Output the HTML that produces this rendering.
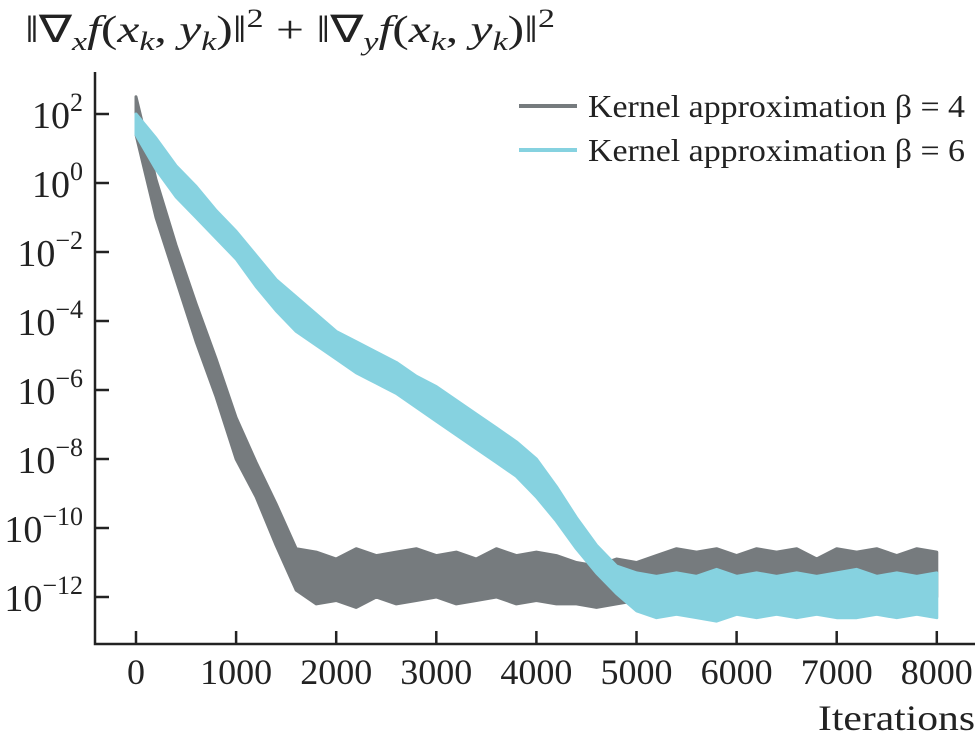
<!DOCTYPE html>
<html><head><meta charset="utf-8"><style>
body{margin:0;background:#fff}
svg{display:block;font-family:"Liberation Serif",serif}
</style></head><body>
<svg id="c" width="978" height="746">
<g id="plot"></g>
<text x="25" y="42" font-size="38" textLength="530" lengthAdjust="spacingAndGlyphs" fill="#222">‖∇<tspan font-size="26" dy="8" font-style="italic">x</tspan><tspan dy="-8" font-style="italic">f</tspan>(<tspan font-style="italic">x</tspan><tspan font-size="26" dy="8" font-style="italic">k</tspan><tspan dy="-8">, </tspan><tspan font-style="italic">y</tspan><tspan font-size="26" dy="8" font-style="italic">k</tspan><tspan dy="-8">)‖</tspan><tspan font-size="26" dy="-15">2</tspan><tspan dy="15"> + ‖∇</tspan><tspan font-size="26" dy="8" font-style="italic">y</tspan><tspan dy="-8" font-style="italic">f</tspan>(<tspan font-style="italic">x</tspan><tspan font-size="26" dy="8" font-style="italic">k</tspan><tspan dy="-8">, </tspan><tspan font-style="italic">y</tspan><tspan font-size="26" dy="8" font-style="italic">k</tspan><tspan dy="-8">)‖</tspan><tspan font-size="26" dy="-15">2</tspan></text>
<text x="818" y="730" font-size="36" textLength="157" lengthAdjust="spacingAndGlyphs" fill="#222">Iterations</text>
<g>
<line x1="519" x2="577" y1="106" y2="106" stroke="#767b7e" stroke-width="4"/>
<text x="588" y="117" font-size="32" textLength="377" lengthAdjust="spacingAndGlyphs" fill="#222">Kernel approximation β = 4</text>
<line x1="519" x2="577" y1="150" y2="150" stroke="#86d2e0" stroke-width="4"/>
<text x="588" y="161" font-size="32" textLength="377" lengthAdjust="spacingAndGlyphs" fill="#222">Kernel approximation β = 6</text>
</g>
</svg>
<script>
const xTicks=[0,1000,2000,3000,4000,5000,6000,7000,8000];
const yTicks=[2,0,-2,-4,-6,-8,-10,-12];
const iters=[0,200,400,600,800,1000,1200,1400,1600,1800,2000,2200,2400,2600,2800,3000,3200,3400,3600,3800,4000,4200,4400,4600,4800,5000,5200,5400,5600,5800,6000,6200,6400,6600,6800,7000,7200,7400,7600,7800,8000];
const grayUpper=[2.5,0.1,-1.8,-3.5,-5.1,-6.8,-8.1,-9.3,-10.6,-10.7,-10.9,-10.6,-10.8,-10.7,-10.6,-10.8,-10.7,-10.9,-10.6,-10.8,-10.7,-10.8,-11.0,-11.1,-10.9,-11.0,-10.8,-10.6,-10.7,-10.6,-10.8,-10.6,-10.7,-10.6,-10.9,-10.6,-10.7,-10.6,-10.8,-10.6,-10.7];
const grayLower=[1.4,-1.0,-2.8,-4.6,-6.2,-8.0,-9.1,-10.5,-11.8,-12.2,-12.1,-12.3,-12.0,-12.2,-12.1,-12.0,-12.2,-12.1,-12.0,-12.2,-12.1,-12.2,-12.2,-12.3,-12.2,-12.1,-12.2,-12.0,-12.1,-12.2,-12.0,-12.1,-12.2,-12.0,-12.1,-12.0,-12.2,-12.1,-12.0,-12.1,-12.0];
const cyanUpper=[2.0,1.3,0.5,-0.1,-0.8,-1.4,-2.1,-2.8,-3.3,-3.8,-4.3,-4.6,-4.9,-5.2,-5.6,-5.9,-6.3,-6.7,-7.1,-7.5,-8.0,-8.8,-9.7,-10.5,-11.1,-11.3,-11.4,-11.3,-11.4,-11.2,-11.4,-11.3,-11.4,-11.3,-11.4,-11.3,-11.2,-11.4,-11.3,-11.4,-11.3];
const cyanLower=[1.4,0.4,-0.4,-1.0,-1.6,-2.2,-3.0,-3.7,-4.3,-4.7,-5.1,-5.5,-5.8,-6.1,-6.5,-6.9,-7.3,-7.7,-8.1,-8.5,-9.1,-9.8,-10.6,-11.3,-11.9,-12.4,-12.6,-12.5,-12.6,-12.7,-12.5,-12.6,-12.5,-12.6,-12.5,-12.6,-12.6,-12.5,-12.6,-12.5,-12.6];
const NS="http://www.w3.org/2000/svg";
const X=v=>136+v*0.1001;
const Y=l=>114+(2-l)*34.5;
const g=document.getElementById('plot');
function mk(t,a,p){const e=document.createElementNS(NS,t);for(const k in a)e.setAttribute(k,a[k]);(p||g).appendChild(e);return e;}
function band(up,lo,color,name){
  let d='M'+iters.map((v,i)=>X(v).toFixed(1)+','+Y(up[i]).toFixed(1)).join('L');
  for(let i=iters.length-1;i>=0;i--)d+='L'+X(iters[i]).toFixed(1)+','+Y(lo[i]).toFixed(1);
  const p=mk('path',{d:d+'Z',fill:color,stroke:color,'stroke-width':3,'stroke-linejoin':'round'});
  
  
}
band(grayUpper,grayLower,'#767b7e','series-beta-4');
band(cyanUpper,cyanLower,'#86d2e0','series-beta-6');
const ax=mk('path',{d:'M95,72V644H975',fill:'none',stroke:'#222','stroke-width':2.5});


xTicks.forEach(v=>{
  const t=mk('line',{x1:X(v),x2:X(v),y1:644,y2:631,stroke:'#222','stroke-width':2.5});
  
  
  const l=mk('text',{x:X(v),y:684,'text-anchor':'middle','font-size':36,fill:'#222'});
  l.textContent=v;
  
  
});
yTicks.forEach(v=>{
  const t=mk('line',{x1:95,x2:109,y1:Y(v),y2:Y(v),stroke:'#222','stroke-width':2.5});
  
  
  const l=mk('text',{x:83,y:Y(v)+14,'text-anchor':'end','font-size':38,fill:'#222'});
  
  
  const a=mk('tspan',{},l);a.textContent='10';
  const b=mk('tspan',{dy:-17,'font-size':26},l);b.textContent=(v<0?'\u2212'+(-v):String(v));
});
</script>
</body></html>
